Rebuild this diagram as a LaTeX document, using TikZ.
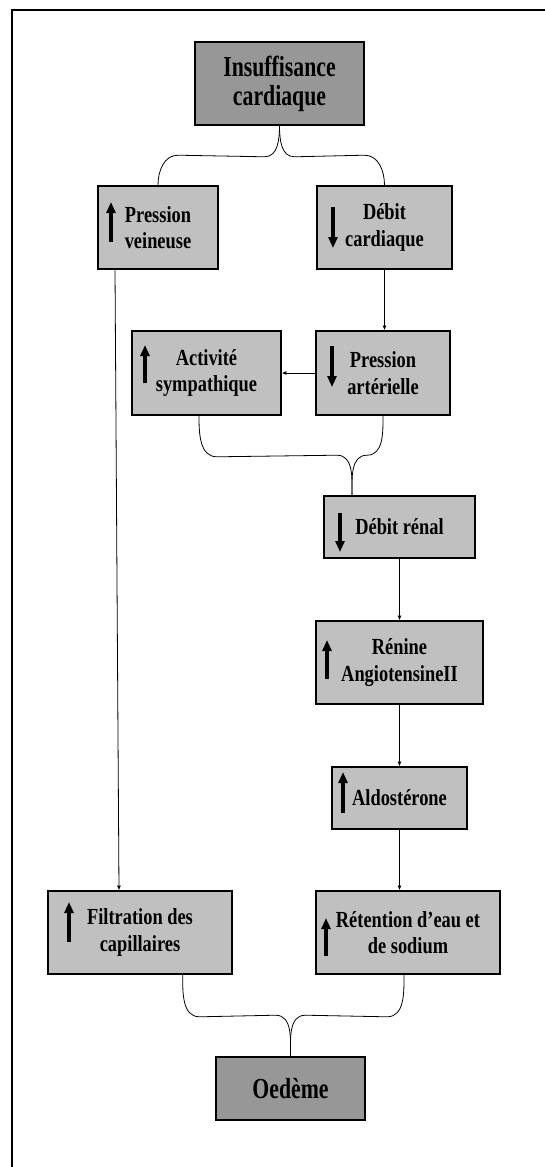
\documentclass[tikz,border=0pt]{standalone}
\usepackage{fontspec}
\newfontfamily\boitefont[FakeStretch=0.8]{Liberation Serif}
\newfontfamily\titrefont[FakeStretch=0.75]{Liberation Serif}
\usetikzlibrary{arrows.meta}
\definecolor{grisclair}{HTML}{C0C0C0}
\definecolor{grisfonce}{HTML}{979797}

\begin{document}
\begin{tikzpicture}[x=1pt, y=1pt,
    boite/.style = {draw, line width=1.6pt, fill=grisclair, align=center, inner sep=0pt,
        font={\boitefont\bfseries\fontsize{23}{26.5}\selectfont}},
    titre/.style = {boite, fill=grisfonce, font={\titrefont\bfseries\fontsize{29}{29}\selectfont}},
    lien/.style = {line width=0.8pt},
    fleche/.style = {-{Latex[length=4.5pt,width=4pt]}},
    sens/.style = {line width=3.5pt, -{Triangle[length=11pt,width=9pt]}}]
    \useasboundingbox (0,0) rectangle (545,-1167);
    \draw[line width=2pt] (12,-1167) -- (12,-10) -- (545,-10);

    % les boites
    \node[titre, minimum width=169pt, minimum height=83pt] (ic) at (279.5,-83.5) {Insuffisance\\cardiaque};
    \node[boite, minimum width=120pt, minimum height=83pt] (pv) at (158,-227.5) {Pression\\veineuse};
    \node[boite, minimum width=135pt, minimum height=83pt] (dc) at (384.5,-227.5) {Débit\\cardiaque};
    \node[boite, minimum width=149pt, minimum height=84pt] (as) at (206.5,-373) {Activité\\sympathique};
    \node[boite, minimum width=134pt, minimum height=84pt] (pa) at (383,-373) {Pression\\artérielle};
    \node[boite, minimum width=151pt, minimum height=62pt] (dr) at (399.5,-527) {Débit rénal};
    \node[boite, minimum width=167pt, minimum height=83pt] (ra) at (399.5,-662.5) {Rénine\\AngiotensineII};
    \node[boite, minimum width=135pt, minimum height=62pt] (al) at (399.5,-798) {Aldostérone};
    \node[boite, minimum width=184pt, minimum height=83pt] (fc) at (140,-932.5) {Filtration des\\capillaires};
    \node[boite, minimum width=184pt, minimum height=83pt] (re) at (408,-932.5) {Rétention d’eau et\\de sodium};
    \node[titre, minimum width=149pt, minimum height=63pt] (oe) at (290.5,-1088.5) {Oedème};

    % hausse / baisse
    \draw[sens] (111,-242) -- (111,-202);
    \draw[sens] (333,-207) -- (333,-248);
    \draw[sens] (145,-383) -- (145,-345);
    \draw[sens] (332,-346) -- (332,-387);
    \draw[sens] (340,-513) -- (340,-552);
    \draw[sens] (327,-679) -- (327,-640);
    \draw[sens] (343,-813) -- (343,-772);
    \draw[sens] (69,-942) -- (69,-902);
    \draw[sens] (326,-956) -- (326,-918);

    % liens
    \draw[lien] (ic.south) to[out=-90,in=0] ++(-15,-31) -- ([xshift=20pt,yshift=30pt]pv.north) to[out=180,in=90] (pv.north);
    \draw[lien] (ic.south) to[out=-90,in=180] ++(15,-31) -- ([xshift=-20pt,yshift=30pt]dc.north) to[out=0,in=90] (dc.north);
    \draw[lien, fleche] (dc.south) -- (dc.south |- pa.north);
    \draw[lien, fleche] (pa.west) -- (as.east);

    \coordinate (jr) at ([xshift=-47.5pt]dr.north);
    \draw[lien] ([xshift=-7.5pt]as.south) to[out=-90,in=180] ++(18,-41) -- ([xshift=-15pt,yshift=40pt]jr) to[out=0,in=90] (jr);
    \draw[lien] (pa.south) to[out=-90,in=0] ([xshift=15pt,yshift=40pt]jr) to[out=180,in=90] (jr);

    \draw[lien, fleche] (dr.south) -- (ra.north);
    \draw[lien, fleche] (ra.south) -- (al.north);
    \draw[lien, fleche] (al.south) -- (al.south |- re.north);
    \draw[lien, fleche] ([xshift=-43pt]pv.south) -- ([xshift=-21pt]fc.north);

    \draw[lien] ([xshift=42.7pt]fc.south) to[out=-90,in=180] ++(17,-42) -- ([xshift=-15pt,yshift=41pt]oe.north) to[out=0,in=90] (oe.north);
    \draw[lien] ([xshift=-4pt]re.south) to[out=-90,in=0] ++(-17,-42) -- ([xshift=15pt,yshift=41pt]oe.north) to[out=180,in=90] (oe.north);

\end{tikzpicture}
\end{document}
